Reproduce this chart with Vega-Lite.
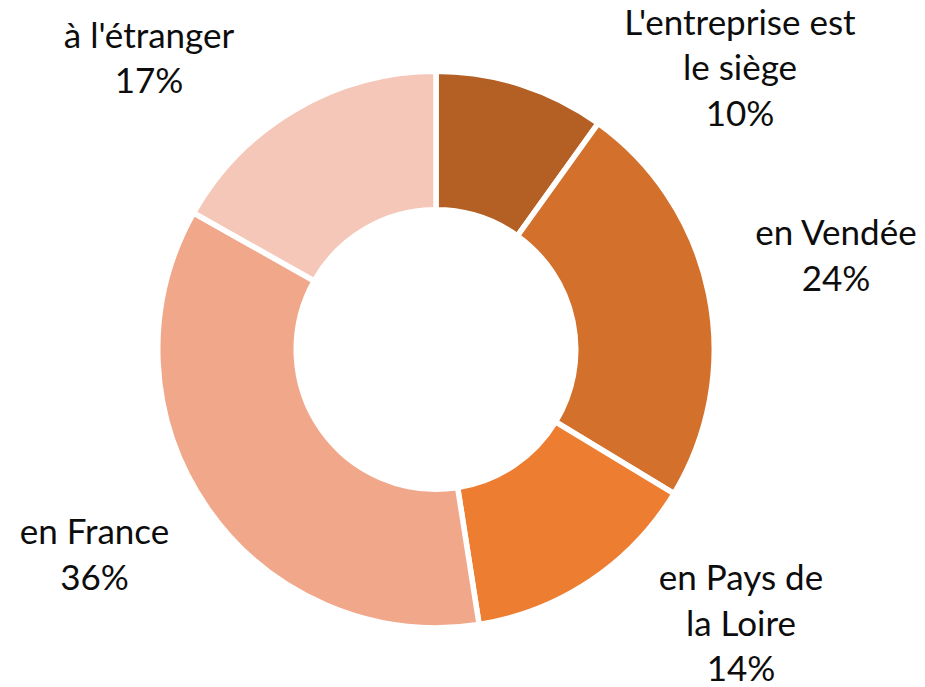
{
  "$schema": "https://vega.github.io/schema/vega-lite/v6.json",
  "width": 872,
  "height": 677,
  "autosize": "none",
  "padding": {"left": 0, "top": 11, "right": 53, "bottom": 0},
  "background": "white",
  "config": {"view": {"stroke": null}},
  "data": {
    "values": [
      {"order": 1, "label": "L'entreprise est le siège", "value": 10, "text": "L'entreprise est\nle siège\n10%"},
      {"order": 2, "label": "en Vendée", "value": 24, "text": "en Vendée\n24%"},
      {"order": 3, "label": "en Pays de la Loire", "value": 14, "text": "en Pays de\nla Loire\n14%"},
      {"order": 4, "label": "en France", "value": 36, "text": "en France\n36%"},
      {"order": 5, "label": "à l'étranger", "value": 17, "text": "à l'étranger\n17%"}
    ]
  },
  "layer": [
    {
      "mark": {"type": "arc", "outerRadius": 278.25, "innerRadius": 139.75, "stroke": "white", "strokeWidth": 5.5},
      "encoding": {
        "theta": {"field": "value", "type": "quantitative", "stack": true},
        "order": {"field": "order", "type": "quantitative"},
        "color": {
          "field": "label",
          "type": "nominal",
          "scale": {
            "domain": ["L'entreprise est le siège", "en Vendée", "en Pays de la Loire", "en France", "à l'étranger"],
            "range": ["#B45F23", "#D3702C", "#ED7D31", "#F1A88A", "#F5C7B8"]
          },
          "legend": null
        }
      }
    },
    {
      "mark": {"type": "text", "font": "Lato", "fontSize": 35, "lineBreak": "\n", "lineHeight": 45.5, "align": "center", "baseline": "middle", "color": "#0d0d0d"},
      "encoding": {
        "theta": {"field": "order", "type": "quantitative", "stack": null, "scale": {"type": "linear", "zero": false, "domain": [1, 2, 3, 4, 5], "range": [0.7512, 1.2898, 2.2159, 4.2193, 5.5404]}},
        "radius": {"field": "order", "type": "quantitative", "scale": {"type": "linear", "zero": false, "domain": [1, 2, 3, 4, 5], "range": [445.4, 416.3, 381.7, 387.7, 424.3]}},
        "text": {"field": "text", "type": "nominal"}
      }
    }
  ],
  "resolve": {"scale": {"theta": "independent", "radius": "independent"}}
}
